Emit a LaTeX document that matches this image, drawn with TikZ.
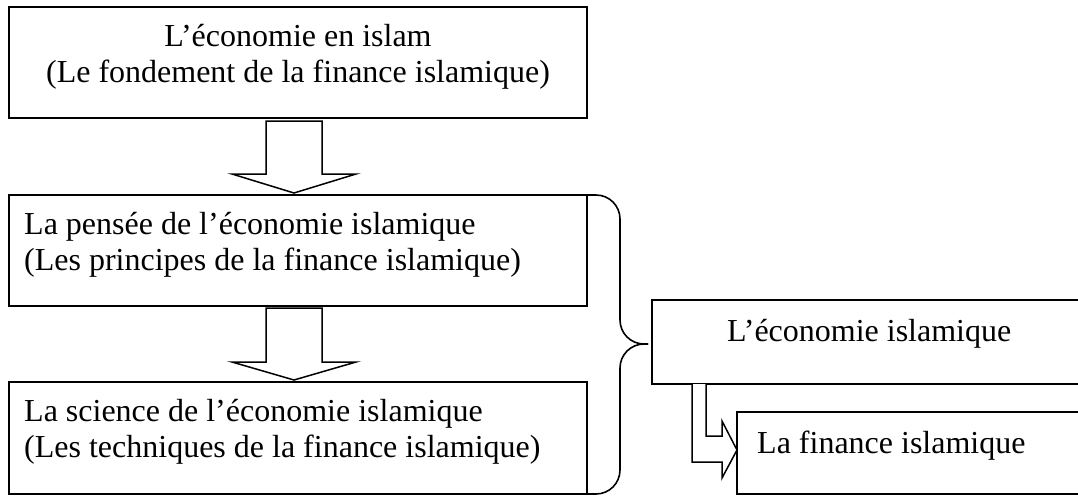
\documentclass[tikz,border=0pt]{standalone}
\usepackage{fontspec}
\setmainfont{Liberation Serif}
\usetikzlibrary{calc}
\begin{document}
\begin{tikzpicture}[x=1pt,y=-1pt,
  box/.style={draw,line width=1.6pt,inner sep=0pt,outer sep=0pt,rectangle},
  txt/.style={inner sep=0pt,font=\fontsize{32}{36.8}\selectfont},
  blockarrow/.style={draw,fill=white,line width=1.5pt,line join=miter},
  bracepath/.style={draw,line width=1.6pt,rounded corners=24pt}]
\useasboundingbox (0,0) rectangle (1078,496);
\clip (0,0) rectangle (1078,496);
% boxes
\node[box,minimum width=578pt,minimum height=111pt] (b1) at (298,62.5) {};
\node[box,minimum width=578pt,minimum height=111pt] (b2) at (298,250.5) {};
\node[box,minimum width=578pt,minimum height=112pt] (b3) at (298,438) {};
\node[box,minimum width=438pt,minimum height=84pt] (b4) at (871,342) {};
\node[box,minimum width=353pt,minimum height=82pt] (b5) at (913.5,453) {};
% texts
\node[txt,anchor=base] (t1a) at (298,46) {L’économie en islam};
\node[txt,anchor=base] (t1b) at (298,82.8) {(Le fondement de la finance islamique)};
\node[txt,anchor=base west] (t2a) at (24,234) {La pensée de l’économie islamique};
\node[txt,anchor=base west] (t2b) at (24,270.8) {(Les principes de la finance islamique)};
\node[txt,anchor=base west] (t3a) at (24,421) {La science de l’économie islamique};
\node[txt,anchor=base west] (t3b) at (24,457.8) {(Les techniques de la finance islamique)};
\node[txt,anchor=base west] (t4) at (727,341) {L’économie islamique};
\node[txt,anchor=base west] (t5) at (757,453) {La finance islamique};
% block arrows down
\draw[blockarrow] let \p1=(b1.south), \p2=(b2.north) in
  (\x1-32pt,\y1-3pt) -- (\x1+24pt,\y1-3pt) -- (\x1+24pt,\y2+21pt) -- (\x1+58pt,\y2+21pt)
  -- (\x1-4pt,\y2+2pt) -- (\x1-66pt,\y2+21pt) -- (\x1-32pt,\y2+21pt) -- cycle;
\draw[blockarrow] let \p1=(b2.south), \p2=(b3.north) in
  (\x1-32pt,\y1-2pt) -- (\x1+24pt,\y1-2pt) -- (\x1+24pt,\y2+20pt) -- (\x1+58pt,\y2+20pt)
  -- (\x1-4pt,\y2+2pt) -- (\x1-66pt,\y2+20pt) -- (\x1-32pt,\y2+20pt) -- cycle;
% brace
\coordinate (tip) at ($(b4.west)+(-4,2)$);
\draw[bracepath] (b2.north east) -- ($(b2.north east)+(33,0)$) |- (tip);
\draw[bracepath] (tip) -| ($(b3.south east)+(33,0)$) -- (b3.south east);
% bent arrow
\draw[blockarrow] let \p1=(b4.south west), \p2=(b5.west) in
  (\x1+40pt,\y1) -- (\x1+40pt,\y2-9pt) -- (\x2-15pt,\y2-9pt) -- (\x2-15pt,\y2-25pt)
  -- (\x2,\y2+3pt) -- (\x2-15pt,\y2+32pt) -- (\x2-15pt,\y2+17pt) -- (\x1+54pt,\y2+17pt)
  -- (\x1+54pt,\y1);
\end{tikzpicture}
\end{document}
